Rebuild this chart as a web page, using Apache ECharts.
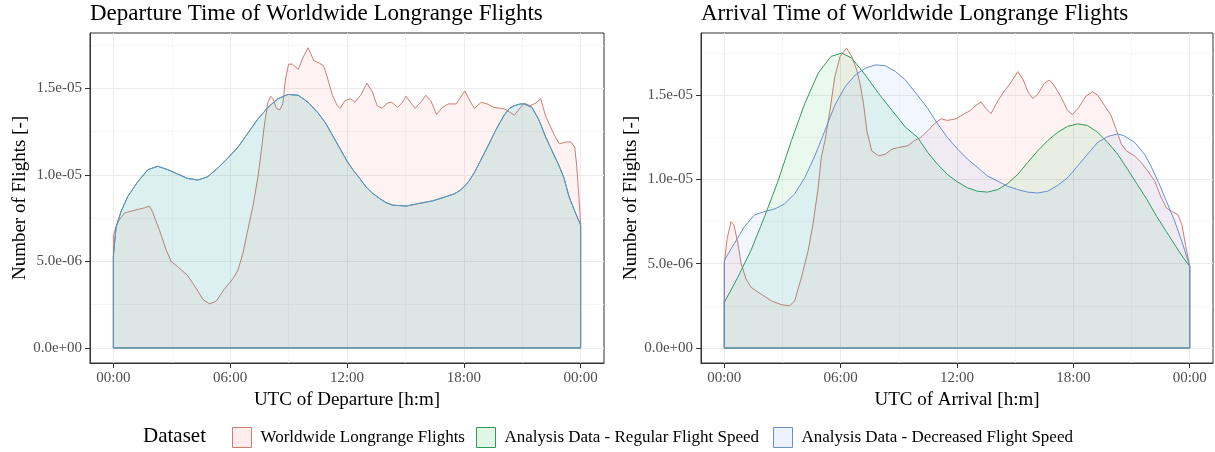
<!DOCTYPE html>
<html><head><meta charset="utf-8">
<script src="https://cdn.jsdelivr.net/npm/echarts@6/dist/echarts.min.js"></script>
<style>html,body{margin:0;padding:0;background:#fff}#c{width:1215px;height:452px}</style>
</head><body><div id="c"></div>
<script>
// ---------- labels ----------
const seriesNames = ['Worldwide Longrange Flights', 'Analysis Data - Regular Flight Speed', 'Analysis Data - Decreased Flight Speed'];
const panelTitles = ['Departure Time of Worldwide Longrange Flights', 'Arrival Time of Worldwide Longrange Flights'];
const xAxisTitles = ['UTC of Departure [h:m]', 'UTC of Arrival [h:m]'];
const yAxisTitle = 'Number of Flights [-]';
const legendTitle = 'Dataset';
const xTickHours = [0, 6, 12, 18, 24];
const xTickLabels = ['00:00', '06:00', '12:00', '18:00', '00:00'];
const xMinorHours = [3, 9, 15, 21];
const yTicks = [0, 5e-6, 1e-5, 1.5e-5];
const yTickLabels = ['0.0e+00', '5.0e-06', '1.0e-05', '1.5e-05'];
const yMinorTicks = [2.5e-6, 7.5e-6, 1.25e-5, 1.75e-5];

// ---------- data: [hour of day, density in units of 1e-6] ----------
const depWorld = [[0,6.5],[0.14,7.0],[0.3,7.4],[0.57,7.8],[0.9,7.9],[1.25,8.0],[1.6,8.1],[1.85,8.2],[2.0,7.9],[2.37,6.8],[2.7,5.7],[2.97,5.0],[3.3,4.7],[3.8,4.2],[4.25,3.45],[4.6,2.8],[4.94,2.55],[5.28,2.7],[5.7,3.4],[6.14,4.0],[6.4,4.5],[6.66,5.5],[6.9,6.8],[7.17,8.2],[7.43,9.9],[7.6,11.4],[7.77,13.0],[7.94,14.2],[8.08,14.55],[8.2,14.4],[8.37,13.85],[8.54,13.75],[8.7,14.1],[8.85,15.6],[9.0,16.4],[9.2,16.4],[9.5,16.1],[9.75,16.8],[10.0,17.35],[10.3,16.6],[10.6,16.45],[10.8,16.3],[11.0,15.6],[11.25,14.6],[11.5,14.0],[11.65,13.85],[11.9,14.3],[12.2,14.4],[12.4,14.2],[12.7,14.6],[13.03,15.3],[13.3,14.8],[13.55,14.0],[13.8,13.85],[14.06,14.15],[14.3,14.2],[14.6,13.9],[14.85,14.2],[15.03,14.55],[15.25,14.2],[15.5,13.85],[15.86,14.3],[16.05,14.6],[16.3,14.3],[16.6,13.5],[16.9,13.9],[17.2,14.1],[17.6,14.1],[18.05,14.85],[18.35,14.2],[18.55,13.85],[18.9,14.2],[19.2,14.1],[19.55,13.9],[19.9,13.85],[20.1,13.8],[20.4,13.6],[20.6,13.45],[20.8,13.75],[21.1,14.15],[21.4,14.0],[21.7,14.15],[21.95,14.4],[22.2,13.4],[22.4,12.9],[22.65,12.3],[22.9,11.8],[23.25,11.9],[23.5,11.9],[23.7,11.6],[23.8,10.5],[23.9,8.9],[24.0,7.2]];
const depDecreased = [[0,5.3],[0.14,7.0],[0.4,7.9],[0.74,8.75],[1.25,9.6],[1.77,10.3],[2.28,10.5],[2.8,10.3],[3.3,10.05],[3.8,9.8],[4.34,9.7],[4.85,9.9],[5.37,10.4],[5.9,11.0],[6.4,11.6],[6.9,12.4],[7.4,13.2],[7.94,13.9],[8.45,14.4],[8.97,14.65],[9.5,14.6],[10.0,14.2],[10.5,13.6],[10.9,13.0],[11.25,12.3],[11.6,11.6],[12.0,10.8],[12.3,10.3],[12.65,9.8],[12.98,9.3],[13.3,8.95],[13.66,8.65],[14.0,8.4],[14.35,8.25],[15.04,8.2],[15.7,8.35],[16.4,8.5],[17.1,8.75],[17.5,8.9],[17.8,9.1],[18.05,9.35],[18.3,9.7],[18.55,10.15],[18.8,10.7],[19.05,11.25],[19.3,11.8],[19.6,12.5],[19.84,13.0],[20.1,13.5],[20.35,13.85],[20.6,14.0],[20.9,14.1],[21.1,14.1],[21.5,13.9],[21.85,13.2],[22.2,12.2],[22.55,11.35],[22.9,10.5],[23.15,9.8],[23.4,8.75],[23.7,7.9],[24.0,7.1]];
// departure times are identical for both analysis speeds
const depRegular = depDecreased;

const arrWorld = [[0,5.0],[0.15,6.5],[0.35,7.5],[0.5,7.3],[0.7,6.2],[0.87,5.0],[1.12,4.1],[1.38,3.6],[1.9,3.2],[2.42,2.8],[2.94,2.57],[3.37,2.5],[3.63,2.8],[3.98,4.2],[4.33,5.8],[4.58,7.4],[4.84,9.5],[5.0,11.3],[5.19,12.3],[5.45,14.1],[5.7,16.1],[5.97,17.3],[6.3,17.8],[6.57,17.3],[6.83,16.5],[7.0,15.7],[7.18,14.5],[7.35,12.9],[7.6,11.7],[7.96,11.4],[8.3,11.5],[8.65,11.8],[9.0,11.9],[9.46,12.0],[9.8,12.3],[10.14,12.5],[10.5,12.9],[10.83,13.3],[11.18,13.6],[11.5,13.5],[11.95,13.6],[12.38,13.9],[12.7,14.1],[12.98,14.4],[13.24,14.6],[13.5,14.2],[13.75,13.9],[14.1,14.65],[14.44,15.25],[14.78,15.75],[15.13,16.4],[15.4,15.95],[15.64,15.25],[15.9,14.8],[16.16,15.05],[16.5,15.7],[16.76,15.9],[17.0,15.6],[17.36,14.9],[17.7,14.1],[17.96,13.85],[18.3,14.3],[18.65,14.95],[18.99,15.2],[19.25,15.0],[19.6,14.4],[19.94,13.8],[20.2,13.0],[20.47,12.1],[20.73,11.7],[21.16,11.4],[21.5,11.0],[21.84,10.5],[22.2,9.9],[22.5,9.0],[22.8,8.3],[23.1,8.1],[23.4,7.9],[23.6,7.3],[23.8,6.0],[24.0,4.85]];
const arrRegular = [[0,2.7],[0.7,4.2],[1.38,5.8],[2.08,7.8],[2.77,9.9],[3.46,12.3],[4.15,14.5],[4.84,16.3],[5.5,17.3],[6.06,17.5],[6.57,17.2],[7.27,16.2],[7.96,15.1],[8.65,14.1],[9.34,13.1],[9.97,12.5],[10.49,11.6],[11.0,10.9],[11.5,10.3],[12.03,9.85],[12.55,9.5],[13.07,9.3],[13.58,9.25],[14.1,9.4],[14.6,9.75],[15.13,10.3],[15.64,11.0],[16.16,11.7],[16.67,12.3],[17.19,12.8],[17.7,13.15],[18.22,13.3],[18.73,13.2],[19.25,12.8],[19.77,12.2],[20.28,11.5],[20.8,10.6],[21.3,9.7],[21.8,8.8],[22.3,7.8],[22.8,6.9],[23.3,6.0],[23.7,5.3],[24.0,4.85]];
const arrDecreased = [[0,5.2],[0.52,6.2],[1.04,7.2],[1.56,7.9],[2.08,8.1],[2.6,8.25],[3.1,8.55],[3.63,9.15],[4.15,10.1],[4.67,11.4],[5.19,12.9],[5.7,14.4],[6.23,15.5],[6.75,16.2],[7.27,16.6],[7.8,16.8],[8.3,16.75],[8.83,16.4],[9.34,15.9],[10.0,14.95],[10.5,14.2],[11.0,13.3],[11.5,12.5],[12.03,11.8],[12.55,11.2],[13.07,10.7],[13.58,10.2],[14.1,9.9],[14.6,9.6],[15.13,9.4],[15.64,9.25],[16.16,9.2],[16.67,9.3],[17.19,9.65],[17.7,10.1],[18.22,10.8],[18.73,11.5],[19.25,12.2],[19.77,12.55],[20.28,12.7],[20.6,12.6],[21.16,12.2],[21.67,11.5],[22.0,10.8],[22.4,9.8],[22.8,8.7],[23.2,7.6],[23.6,6.3],[24.0,4.85]];

// ---------- styling ----------
const FONT = 'Liberation Serif';
const lineColors = ['#CF7C74', '#2E9B55', '#6690D0'];
const fillColors = ['rgba(248,118,109,0.13)', 'rgba(0,186,56,0.12)', 'rgba(97,156,255,0.12)'];
const units = 1e-6;
const yRanges = [[-0.87e-6, 18.2e-6], [-0.89e-6, 18.69e-6]];
const grids = [
  {left: 90, top: 33, width: 514, height: 330},
  {left: 701, top: 33, width: 512, height: 330}
];

function closedArea(arr) {
  const pts = arr.map(p => [p[0], p[1] * units]);
  const first = pts[0][0], last = pts[pts.length - 1][0];
  return [[first, 0]].concat(pts, [[last, 0], [first, 0]]);
}
function xFmt(v) { const i = xTickHours.indexOf(Math.round(v)); return i >= 0 ? xTickLabels[i] : ''; }
function yFmt(v) {
  let best = 0;
  yTicks.forEach((t, i) => { if (Math.abs(t - v) < Math.abs(yTicks[best] - v)) best = i; });
  return yTickLabels[best];
}

const panels = [[depWorld, depRegular, depDecreased], [arrWorld, arrRegular, arrDecreased]];

const xAxes = [], yAxes = [], series = [], titles = [];
grids.forEach((g, i) => {
  titles.push({text: panelTitles[i], left: g.left, top: 2, padding: 0,
    textStyle: {fontFamily: FONT, fontSize: 23, fontWeight: 'normal', color: '#000'}});
  xAxes.push({gridIndex: i, type: 'value', min: -1.2, max: 25.2,
    axisLine: {show: true, onZero: false, lineStyle: {color: '#333', width: 1}},
    axisTick: {show: true, length: 5, customValues: xTickHours, lineStyle: {color: '#333'}},
    axisLabel: {customValues: xTickHours, formatter: xFmt, margin: 8, color: '#4D4D4D', fontFamily: FONT, fontSize: 15},
    splitLine: {show: true, lineStyle: {color: '#EBEBEB', width: 1}},
    name: xAxisTitles[i], nameLocation: 'middle', nameGap: 27,
    nameTextStyle: {fontFamily: FONT, fontSize: 19, color: '#000'}});
  xAxes.push({gridIndex: i, type: 'value', min: -1.2, max: 25.2,
    axisLine: {show: false}, axisTick: {show: false, customValues: xMinorHours},
    axisLabel: {show: false, customValues: xMinorHours},
    splitLine: {show: true, lineStyle: {color: '#F3F3F3', width: 0.7}}});
  yAxes.push({gridIndex: i, type: 'value', min: yRanges[i][0], max: yRanges[i][1],
    axisLine: {show: true, onZero: false, lineStyle: {color: '#333', width: 1}},
    axisTick: {show: true, length: 5, customValues: yTicks, lineStyle: {color: '#333'}},
    axisLabel: {customValues: yTicks, formatter: yFmt, margin: 8, color: '#4D4D4D', fontFamily: FONT, fontSize: 15},
    splitLine: {show: true, lineStyle: {color: '#EBEBEB', width: 1}},
    name: yAxisTitle, nameLocation: 'middle', nameGap: 58, nameRotate: 90,
    nameTextStyle: {fontFamily: FONT, fontSize: 19, color: '#000'}});
  yAxes.push({gridIndex: i, type: 'value', min: yRanges[i][0], max: yRanges[i][1],
    axisLine: {show: false}, axisTick: {show: false, customValues: yMinorTicks},
    axisLabel: {show: false, customValues: yMinorTicks},
    splitLine: {show: true, lineStyle: {color: '#F3F3F3', width: 0.7}}});
  panels[i].forEach((arr, k) => {
    series.push({name: seriesNames[k], type: 'line', xAxisIndex: 2 * i, yAxisIndex: 2 * i,
      data: closedArea(arr), showSymbol: false, symbol: 'none', smooth: false,
      color: lineColors[k], lineStyle: {color: lineColors[k], width: 1},
      areaStyle: {color: fillColors[k], origin: 0}, z: 2 + k, animation: false});
  });
});
titles.push({text: legendTitle, left: 143, top: 426, padding: 0,
  textStyle: {fontFamily: FONT, fontSize: 21, fontWeight: 'normal', color: '#000'}});

const legendLefts = [232, 476, 773];
const legends = seriesNames.map((n, k) => ({
  left: legendLefts[k], top: 427, padding: 0, itemWidth: 19, itemHeight: 20, selectedMode: false,
  data: [{name: n, icon: 'rect', itemStyle: {color: fillColors[k], borderColor: lineColors[k], borderWidth: 1}}],
  textStyle: {fontFamily: FONT, fontSize: 17, color: '#000', padding: [0, 0, 0, 4]}
}));

const chart = echarts.init(document.getElementById('c'), null, {renderer: 'canvas'});
chart.setOption({
  animation: false,
  backgroundColor: '#fff',
  title: titles,
  legend: legends,
  grid: grids.map(g => Object.assign({show: true, borderColor: '#333', borderWidth: 1, backgroundColor: '#fff'}, g)),
  xAxis: xAxes,
  yAxis: yAxes,
  series: series
});
</script></body></html>
